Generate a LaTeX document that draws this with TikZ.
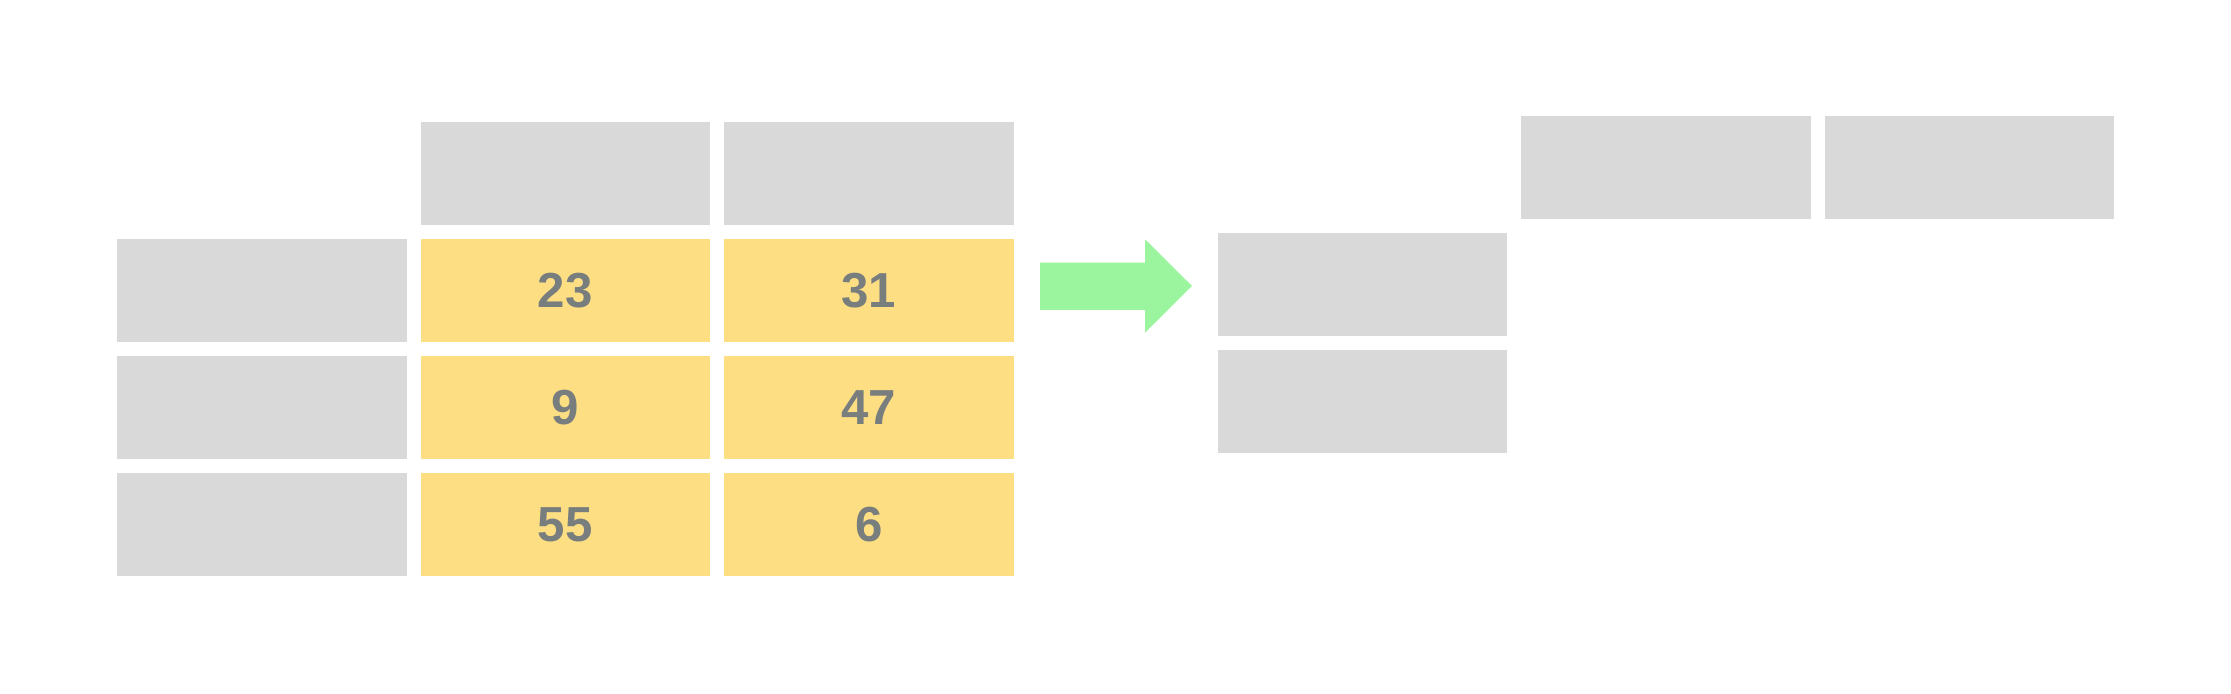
\documentclass[tikz,border=0pt]{standalone}
\usepackage{fontspec}
\setsansfont{Liberation Sans}
\usetikzlibrary{positioning}
\definecolor{cellgray}{HTML}{D9D9D9}
\definecolor{cellyellow}{HTML}{FDDE82}
\definecolor{numgray}{HTML}{787D7D}
\definecolor{arrowgreen}{HTML}{9BF59E}

\begin{document}
\begin{tikzpicture}[node distance=0.14cm]
        \useasboundingbox[fill=white] (0,0) rectangle (22.31,6.94);
        \tikzstyle{every node}=[rectangle, inner sep=0pt, outer sep=0pt, minimum width=2.895cm, minimum height=1.03cm, font=\sffamily\bfseries\fontsize{14}{16}\selectfont, text=numgray]
        \tikzstyle{head}=[fill=cellgray]
        \tikzstyle{val}=[fill=cellyellow]

        % Left table: row heads
        \node[head, anchor=north west] (r1) at (1.17,4.55) {};
        \node[head] (r2) [below=of r1] {};
        \node[head] (r3) [below=of r2] {};

        % Left table: values
        \node[val] (a11) [right=of r1] {23};
        \node[val] (a12) [right=of a11] {31};
        \node[val] (a21) [right=of r2] {9};
        \node[val] (a22) [right=of a21] {47};
        \node[val] (a31) [right=of r3] {55};
        \node[val] (a32) [right=of a31] {6};

        % Left table: column heads
        \node[head] (c1) [above=of a11] {};
        \node[head] (c2) [above=of a12] {};

        % Arrow
        \fill[arrowgreen] (10.40,4.313) -- (11.45,4.313) -- (11.45,4.547) -- (11.92,4.08)
                -- (11.45,3.613) -- (11.45,3.84) -- (10.40,3.84) -- cycle;

        % Right table
        \node[head, anchor=north west] (s1) at (12.175,4.607) {};
        \node[head] (s2) [below=of s1] {};
        \coordinate[right=0.14cm of s1.north east] (b1);
        \node[head] (d1) [above=0.14cm of b1, anchor=south west] {};
        \node[head] (d2) [right=of d1] {};
\end{tikzpicture}
\end{document}
